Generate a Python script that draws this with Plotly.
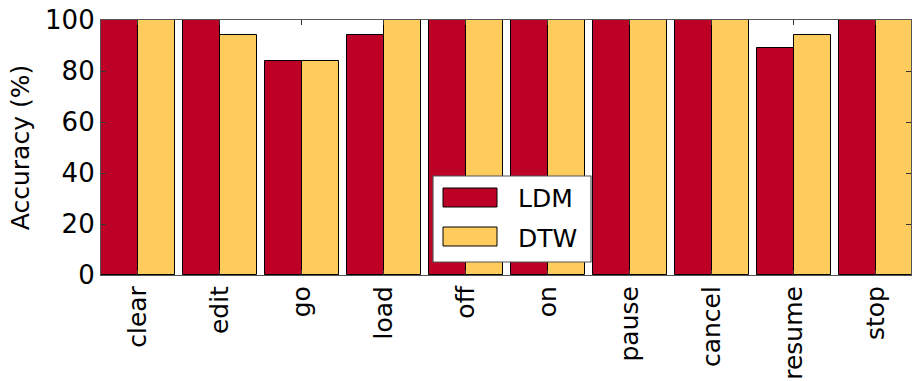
import plotly.graph_objects as go

categories = ["clear", "edit", "go", "load", "off", "on", "pause", "cancel", "resume", "stop"]
ldm = [100, 100, 84, 94, 100, 100, 100, 100, 89, 100]
dtw = [100, 94, 84, 100, 100, 100, 100, 100, 94, 100]
y_ticks = [0, 20, 40, 60, 80, 100]

LDM_COLOR = "#BD0026"
DTW_COLOR = "#FECC5C"
FONT = "DejaVu Sans"
pos = list(range(len(categories)))

fig = go.Figure()
fig.add_trace(go.Bar(x=pos, y=ldm, width=0.45, offset=-0.45, name="LDM",
                     marker=dict(color=LDM_COLOR, line=dict(color="black", width=1))))
fig.add_trace(go.Bar(x=pos, y=dtw, width=0.45, offset=0.0, name="DTW",
                     marker=dict(color=DTW_COLOR, line=dict(color="black", width=1))))

L, T, PW, PH = 101, 20, 810, 255
def px(x):
    return (x - L) / PW
def py(y):
    return (T + PH - y) / PH

shapes = [
    dict(type="rect", xref="paper", yref="paper", x0=px(433), x1=px(591), y0=py(262), y1=py(176),
         fillcolor="white", line=dict(color="#555555", width=1.2), layer="above"),
    dict(type="rect", xref="paper", yref="paper", x0=px(443), x1=px(497), y0=py(207), y1=py(188),
         fillcolor=LDM_COLOR, line=dict(color="black", width=1), layer="above"),
    dict(type="rect", xref="paper", yref="paper", x0=px(443), x1=px(497), y0=py(246), y1=py(227),
         fillcolor=DTW_COLOR, line=dict(color="black", width=1), layer="above"),
]
annotations = [
    dict(text="LDM", xref="paper", yref="paper", x=px(516), y=py(198), xanchor="left", yanchor="middle",
         showarrow=False, font=dict(family=FONT, size=25, color="black")),
    dict(text="DTW", xref="paper", yref="paper", x=px(516), y=py(238), xanchor="left", yanchor="middle",
         showarrow=False, font=dict(family=FONT, size=25, color="black")),
]

fig.update_layout(
    width=912, height=381,
    margin=dict(l=L, r=912 - L - PW, t=T, b=381 - T - PH, pad=0),
    paper_bgcolor="white", plot_bgcolor="white",
    showlegend=False,
    bargap=0, barmode="overlay",
    font=dict(family=FONT, size=25, color="black"),
    shapes=shapes, annotations=annotations,
    xaxis=dict(range=[-0.45, 9.43], tickmode="array", tickvals=pos, ticktext=categories,
               tickangle=-90, ticks="inside", ticklen=5, tickcolor="#333",
               showline=True, linecolor="#555555", linewidth=1.2, mirror="ticks",
               showgrid=False, zeroline=False, tickfont=dict(family=FONT, size=25)),
    yaxis=dict(range=[0, 100], tickmode="array", tickvals=y_ticks,
               ticks="inside", ticklen=5, tickcolor="#333",
               showline=True, linecolor="#555555", linewidth=1.2, mirror="ticks",
               showgrid=False, zeroline=False, tickfont=dict(family=FONT, size=26),
               title=dict(text="Accuracy (%)", font=dict(family=FONT, size=25), standoff=8)),
)

fig.write_html("out.html")
